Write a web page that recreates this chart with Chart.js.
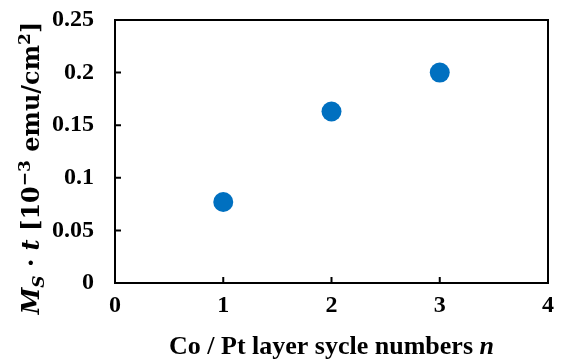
<!DOCTYPE html>
<html>
<head>
<meta charset="utf-8">
<script src="https://cdn.jsdelivr.net/npm/chart.js@4"></script>
<style>
  body { margin: 0; background: #fff; }
  canvas { display: block; }
</style>
</head>
<body>
<canvas id="msChart" width="569" height="360"></canvas>
<script>
// data
const cycleNumbers = [1, 2, 3]
const msTimesT = [0.077, 0.163, 0.2]
const xTicks = [0, 1, 2, 3, 4]
const yTicks = [0, 0.05, 0.1, 0.15, 0.2, 0.25]

const serif = '"Liberation Serif", "Times New Roman", serif'
const mathSerif = '"DejaVu Serif", serif'
const blue = '#0070C0'

// pieces of text in different styles, drawn one after another
function drawRich(ctx, parts, cx, cy, size, family, rotate) {
    ctx.save()
    ctx.translate(cx, cy)
    if (rotate) ctx.rotate(-Math.PI / 2)
    ctx.textBaseline = 'alphabetic'
    ctx.textAlign = 'left'
    ctx.fillStyle = '#000'
    const fontOf = p => (p.italic ? 'italic ' : '') + 'bold ' + Math.round(size * (p.scale || 1)) + 'px ' + family
    let total = 0
    parts.forEach(p => {
        ctx.font = fontOf(p)
        p.w = ctx.measureText(p.text).width
        total += p.w
    })
    let x = -total / 2
    const base = size * 0.35
    parts.forEach(p => {
        ctx.font = fontOf(p)
        ctx.fillText(p.text, x, base + (p.dy || 0) * size)
        x += p.w
    })
    ctx.restore()
}

const xTitle = [
    { text: 'Co / Pt layer sycle numbers ' },
    { text: 'n', italic: true }
]
const yTitle = [
    { text: 'M', italic: true },
    { text: 'S', italic: true, scale: 0.7, dy: 0.2 },
    { text: ' · ' },
    { text: 't', italic: true },
    { text: ' [10' },
    { text: '−3', scale: 0.72, dy: -0.4 },
    { text: ' emu/cm' },
    { text: '2', scale: 0.72, dy: -0.4 },
    { text: ']' }
]

const framePlugin = {
    id: 'frame',
    afterDraw(chart) {
        const { ctx, chartArea: a, scales } = chart
        ctx.save()
        ctx.strokeStyle = '#000'
        ctx.lineWidth = 2
        ctx.strokeRect(a.left, a.top, a.right - a.left, a.bottom - a.top)
        ctx.beginPath()
        scales.x.ticks.forEach(t => {
            const px = scales.x.getPixelForValue(t.value)
            ctx.moveTo(px, a.bottom)
            ctx.lineTo(px, a.bottom - 6)
        })
        scales.y.ticks.forEach(t => {
            const py = scales.y.getPixelForValue(t.value)
            ctx.moveTo(a.left, py)
            ctx.lineTo(a.left + 6, py)
        })
        ctx.stroke()
        ctx.restore()
        drawRich(ctx, xTitle, (a.left + a.right) / 2, 345, 26.2, serif, false)
        drawRich(ctx, yTitle, 31, 168, 24, mathSerif, true)
    }
}

const ctx = document.getElementById('msChart').getContext('2d')
const msChart = new Chart(ctx, {
    type: 'scatter',
    data: {
        datasets: [{
            data: cycleNumbers.map((n, i) => ({ x: n, y: msTimesT[i] })),
            backgroundColor: blue,
            borderWidth: 0,
            pointRadius: 10
        }]
    },
    options: {
        responsive: false,
        animation: false,
        layout: { padding: { left: 0, right: 21, top: 20, bottom: 0 } },
        plugins: { legend: { display: false }, tooltip: { enabled: false } },
        scales: {
            x: {
                type: 'linear',
                min: 0,
                max: 4,
                afterBuildTicks: s => { s.ticks = xTicks.map(v => ({ value: v })) },
                afterFit: s => { s.height = 77; s.paddingLeft = 0; s.paddingRight = 0 },
                grid: { display: false, drawTicks: false },
                border: { display: false },
                ticks: {
                    padding: 8,
                    color: '#000',
                    font: { family: serif, size: 24, weight: 'bold' },
                    maxRotation: 0
                }
            },
            y: {
                min: 0,
                max: 0.25,
                afterBuildTicks: s => { s.ticks = yTicks.map(v => ({ value: v })) },
                afterFit: s => { s.width = 115; s.paddingTop = 0; s.paddingBottom = 0 },
                grid: { display: false, drawTicks: false },
                border: { display: false },
                ticks: {
                    padding: 21,
                    color: '#000',
                    font: { family: serif, size: 24, weight: 'bold' },
                    callback: v => String(Number(v.toFixed(2)))
                }
            }
        }
    },
    plugins: [framePlugin]
})
</script>
</body>
</html>
